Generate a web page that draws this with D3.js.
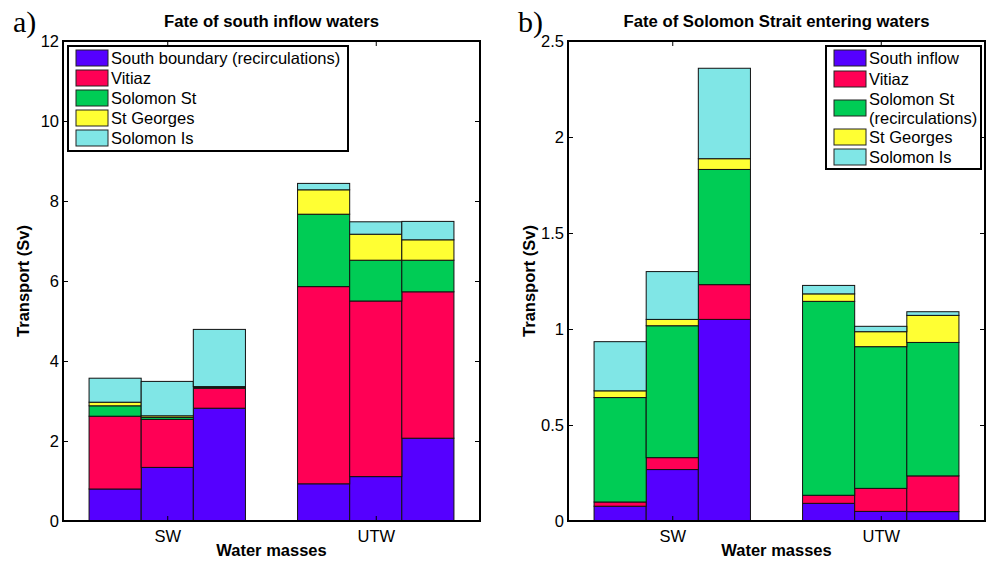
<!DOCTYPE html>
<html>
<head>
<meta charset="utf-8">
<script src="https://cdn.jsdelivr.net/npm/d3@7"></script>
<style>
  body { margin: 0; background: #fff; }
  svg { font-family: "Liberation Sans", Arial, sans-serif; }
  .axis text { font-size: 16.5px; fill: #000; }
  .axis path, .axis line { stroke: #000; }
</style>
</head>
<body>
<div id="content"></div>
<script>
// categories (water masses) and the three runs drawn in each group
var categories = ["SW", "UTW"];

// a) fate of south inflow waters, one value per bar (SW x3, UTW x3)
var seriesA = ["South boundary (recirculations)", "Vitiaz", "Solomon St", "St Georges", "Solomon Is"];
var southBoundaryA = [0.80, 1.34, 2.82, 0.93, 1.11, 2.07];
var vitiazA        = [1.82, 1.20, 0.50, 4.93, 4.39, 3.66];
var solomonStA     = [0.26, 0.05, 0.02, 1.81, 1.02, 0.79];
var stGeorgesA     = [0.09, 0.04, 0.02, 0.61, 0.65, 0.51];
var solomonIsA     = [0.60, 0.86, 1.43, 0.16, 0.31, 0.46];
var ticksA = [0, 2, 4, 6, 8, 10, 12];

// b) fate of Solomon Strait entering waters
var seriesB = ["South inflow", "Vitiaz", "Solomon St\n(recirculations)", "St Georges", "Solomon Is"];
var southInflowB = [0.077, 0.268, 1.050, 0.092, 0.050, 0.049];
var vitiazB      = [0.022, 0.062, 0.181, 0.042, 0.120, 0.186];
var solomonStB   = [0.544, 0.687, 0.600, 1.010, 0.738, 0.695];
var stGeorgesB   = [0.035, 0.033, 0.056, 0.039, 0.078, 0.141];
var solomonIsB   = [0.256, 0.249, 0.471, 0.044, 0.028, 0.019];
var ticksB = [0, 0.5, 1, 1.5, 2, 2.5];

var colors = ["#5500ff", "#ff0055", "#00cc55", "#ffff33", "#80e6e6"];

var svg = d3.select("#content").append("svg")
  .attr("width", 989).attr("height", 562);

// both panels share the same plot box height
var plotTop = 41, plotBottom = 521;
var fs = "16.5px";

function panel(opt) {
  var g = svg.append("g");
  var x = d3.scaleLinear().domain([0.5, 2.5]).range([opt.left, opt.right]);
  var y = d3.scaleLinear().domain([0, opt.ymax]).range([plotBottom, plotTop]);

  // build the stacked rows: one object per bar
  var rows = opt.values[0].map(function (d, i) {
    var r = {cat: categories[Math.floor(i / 3)], ci: Math.floor(i / 3) + 1, run: i % 3};
    opt.values.forEach(function (arr, k) { r["s" + k] = arr[i]; });
    return r;
  });
  var keys = opt.values.map(function (d, k) { return "s" + k; });
  var stacked = d3.stack().keys(keys)(rows);

  var inner = d3.scaleBand().domain([0, 1, 2]).range([-0.375, 0.375]);

  g.selectAll(".layer").data(stacked).enter()
    .append("g").attr("class", "layer")
    .attr("fill", function (d, k) { return colors[k]; })
    .selectAll("rect").data(function (d) { return d; }).enter()
    .append("rect")
    .attr("x", function (d) { return x(d.data.ci + inner(d.data.run)); })
    .attr("width", function (d) { return x(d.data.ci + inner(d.data.run) + inner.bandwidth()) - x(d.data.ci + inner(d.data.run)); })
    .attr("y", function (d) { return y(d[1]); })
    .attr("height", function (d) { return y(d[0]) - y(d[1]); })
    .attr("stroke", "#111").attr("stroke-width", 1);

  // axes, MATLAB style: ticks pointing inward on all four sides
  g.append("g").attr("class", "axis")
    .attr("transform", "translate(" + opt.left + ",0)")
    .call(d3.axisLeft(y).tickValues(opt.ticks).tickSizeInner(-5).tickSizeOuter(0).tickPadding(4)
      .tickFormat(function (d) { return String(d); }))
    .select(".domain").remove();
  g.append("g").attr("class", "axis")
    .attr("transform", "translate(" + opt.right + ",0)")
    .call(d3.axisRight(y).tickValues(opt.ticks).tickSizeInner(-5).tickSizeOuter(0).tickFormat(""))
    .select(".domain").remove();
  g.append("g").attr("class", "axis")
    .attr("transform", "translate(0," + plotBottom + ")")
    .call(d3.axisBottom(x).tickValues([1, 2]).tickSizeInner(-5).tickSizeOuter(0).tickPadding(9)
      .tickFormat(function (d) { return categories[d - 1]; }))
    .select(".domain").remove();
  g.append("g").attr("class", "axis")
    .attr("transform", "translate(0," + plotTop + ")")
    .call(d3.axisTop(x).tickValues([1, 2]).tickSizeInner(-5).tickSizeOuter(0).tickFormat(""))
    .select(".domain").remove();

  g.append("rect")
    .attr("x", opt.left).attr("y", plotTop)
    .attr("width", opt.right - opt.left).attr("height", plotBottom - plotTop)
    .attr("fill", "none").attr("stroke", "#000").attr("stroke-width", 2);

  // titles and labels
  g.append("text")
    .attr("x", (opt.left + opt.right) / 2).attr("y", 27)
    .attr("text-anchor", "middle").style("font-weight", "bold").style("font-size", "16.7px")
    .text(opt.title);
  g.append("text")
    .attr("x", opt.left - 50).attr("y", 32)
    .style("font-family", "'Liberation Serif', 'Times New Roman', serif").style("font-size", "30px")
    .text(opt.tag);
  g.append("text")
    .attr("transform", "translate(" + opt.ylabelX + "," + ((plotTop + plotBottom) / 2) + ") rotate(-90)")
    .attr("text-anchor", "middle").style("font-weight", "bold").style("font-size", fs)
    .text("Transport (Sv)");
  g.append("text")
    .attr("x", (opt.left + opt.right) / 2).attr("y", 556)
    .attr("text-anchor", "middle").style("font-weight", "bold").style("font-size", fs)
    .text("Water masses");

  // legend
  var lg = g.append("g");
  lg.append("rect")
    .attr("x", opt.legend.x).attr("y", opt.legend.y)
    .attr("width", opt.legend.w).attr("height", opt.legend.h)
    .attr("fill", "#fff").attr("stroke", "#000").attr("stroke-width", 2);
  var item = lg.selectAll(".item").data(opt.series).enter()
    .append("g").attr("class", "item")
    .attr("transform", function (d, k) { return "translate(" + (opt.legend.x + 8) + "," + opt.legend.rows[k] + ")"; });
  item.append("rect")
    .attr("x", 0).attr("y", -8).attr("width", 32).attr("height", 16)
    .attr("fill", function (d, k) { return colors[k]; })
    .attr("stroke", "#222").attr("stroke-width", 1);
  item.each(function (d) {
    var lines = d.split("\n");
    var t = d3.select(this).append("text")
      .attr("x", 35).style("font-size", fs);
    lines.forEach(function (ln, j) {
      t.append("tspan").attr("x", 35)
        .attr("y", (j - (lines.length - 1) / 2) * 19 + 6)
        .text(ln);
    });
  });
}

panel({
  left: 63, right: 480, ymax: 12, ticks: ticksA, tag: "a)",
  title: "Fate of south inflow waters", ylabelX: 29,
  values: [southBoundaryA, vitiazA, solomonStA, stGeorgesA, solomonIsA],
  series: seriesA,
  legend: {x: 68, y: 46, w: 280, h: 105, rows: [58, 78, 98, 118, 138]}
});

panel({
  left: 568, right: 985, ymax: 2.5, ticks: ticksB, tag: "b)",
  title: "Fate of Solomon Strait entering waters", ylabelX: 535,
  values: [southInflowB, vitiazB, solomonStB, stGeorgesB, solomonIsB],
  series: seriesB,
  legend: {x: 826, y: 46, w: 155, h: 123, rows: [58, 79, 108, 137, 157]}
});
</script>
</body>
</html>
